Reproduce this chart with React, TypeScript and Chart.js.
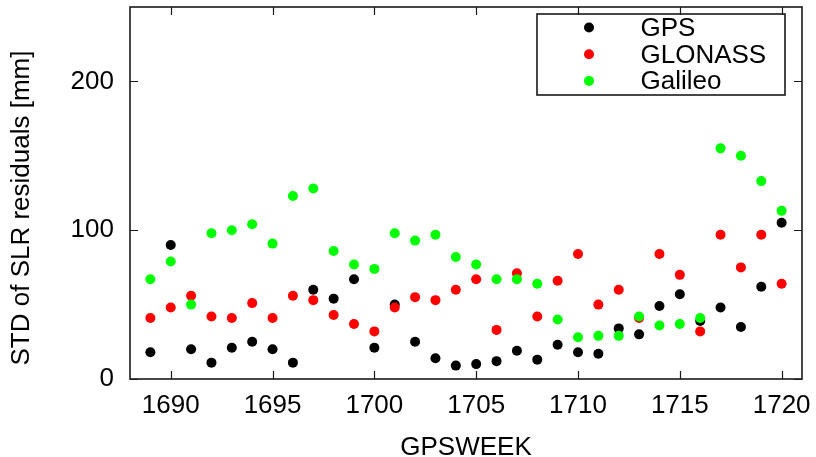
import React, { useEffect, useRef } from "react";
import { Chart, registerables } from "chart.js";

Chart.register(...registerables);

const weeks = [
  1689, 1690, 1691, 1692, 1693, 1694, 1695, 1696, 1697, 1698, 1699, 1700, 1701, 1702, 1703, 1704,
  1705, 1706, 1707, 1708, 1709, 1710, 1711, 1712, 1713, 1714, 1715, 1716, 1717, 1718, 1719, 1720,
];
const gps = [
  18, 90, 20, 11, 21, 25, 20, 11, 60, 54, 67, 21, 50, 25, 14, 9,
  10, 12, 19, 13, 23, 18, 17, 34, 30, 49, 57, 39, 48, 35, 62, 105,
];
const glonass = [
  41, 48, 56, 42, 41, 51, 41, 56, 53, 43, 37, 32, 48, 55, 53, 60,
  67, 33, 71, 42, 66, 84, 50, 60, 41, 84, 70, 32, 97, 75, 97, 64,
];
const galileo = [
  67, 79, 50, 98, 100, 104, 91, 123, 128, 86, 77, 74, 98, 93, 97, 82,
  77, 67, 67, 64, 40, 28, 29, 29, 42, 36, 37, 41, 155, 150, 133, 113,
];
const seriesNames = ["GPS", "GLONASS", "Galileo"];
const seriesColors = ["#000000", "#ff0000", "#00ff00"];
const xTicks = [1690, 1695, 1700, 1705, 1710, 1715, 1720];
const yTicks = [0, 100, 200];
const xTitle = "GPSWEEK";
const yTitle = "STD of SLR residuals [mm]";

const FONT = "'Liberation Sans', Arial, Helvetica, sans-serif";

const framePlugin = {
  id: "gnuFrame",
  afterDraw(chart: any) {
    const { ctx, chartArea } = chart;
    const { left, right, top, bottom } = chartArea;
    const xs = chart.scales.x;
    const ys = chart.scales.y;
    ctx.save();
    ctx.strokeStyle = "#1a1a1a";
    ctx.lineWidth = 1.6;
    ctx.strokeRect(left, top, right - left, bottom - top);
    const tl = 8;
    ctx.beginPath();
    xTicks.forEach((v) => {
      const px = Math.round(xs.getPixelForValue(v)) + 0.5;
      ctx.moveTo(px, bottom);
      ctx.lineTo(px, bottom - tl);
      ctx.moveTo(px, top);
      ctx.lineTo(px, top + tl);
    });
    yTicks.forEach((v) => {
      const py = Math.round(ys.getPixelForValue(v)) + 0.5;
      ctx.moveTo(left, py);
      ctx.lineTo(left + tl, py);
      ctx.moveTo(right, py);
      ctx.lineTo(right - tl, py);
    });
    ctx.lineWidth = 1.2;
    ctx.stroke();

    // axis titles
    ctx.fillStyle = "#000";
    ctx.font = `26px ${FONT}`;
    ctx.textAlign = "center";
    ctx.textBaseline = "alphabetic";
    ctx.fillText(xTitle, (left + right) / 2, 455);
    ctx.save();
    ctx.translate(29, (top + bottom) / 2 + 15);
    ctx.rotate(-Math.PI / 2);
    ctx.fillText(yTitle, 0, 0);
    ctx.restore();

    // legend (key) box
    const bx0 = right - 265;
    const bx1 = right - 17;
    const by0 = top + 7;
    const by1 = top + 88;
    ctx.strokeStyle = "#1a1a1a";
    ctx.lineWidth = 1.6;
    ctx.strokeRect(bx0, by0, bx1 - bx0, by1 - by0);
    ctx.textAlign = "left";
    chart.data.datasets.forEach((ds: any, i: number) => {
      const cy = by0 + 13.5 + i * 26.7;
      ctx.beginPath();
      ctx.fillStyle = ds.backgroundColor;
      ctx.arc(bx0 + 52, cy, 5, 0, Math.PI * 2);
      ctx.fill();
      ctx.fillStyle = "#000";
      ctx.fillText(ds.label, bx0 + 103.5, cy + 8.5);
    });
    ctx.restore();
  },
};

const zeroPad = (s: any) => {
  s.paddingTop = 0;
  s.paddingBottom = 0;
  s.paddingLeft = 0;
  s.paddingRight = 0;
};

export default function App() {
  const ref = useRef<HTMLCanvasElement | null>(null);
  useEffect(() => {
    if (!ref.current) return;
    const series = [gps, glonass, galileo];
    const chart = new Chart(ref.current, {
      type: "scatter",
      data: {
        datasets: series.map((vals, i) => ({
          label: seriesNames[i],
          data: weeks.map((w, j) => ({ x: w, y: vals[j] })),
          backgroundColor: seriesColors[i],
          borderColor: seriesColors[i],
          borderWidth: 0,
          pointRadius: 5,
          pointHoverRadius: 5,
          order: 2 - i,
        })),
      },
      options: {
        animation: false,
        responsive: false,
        maintainAspectRatio: false,
        events: [],
        layout: { padding: { top: 7, right: 14, left: 0, bottom: 0 } },
        plugins: { legend: { display: false }, tooltip: { enabled: false } },
        scales: {
          x: {
            type: "linear",
            min: 1688,
            max: 1721,
            grid: { display: false, drawTicks: false },
            border: { display: false },
            afterBuildTicks: (s: any) => {
              s.ticks = xTicks.map((v) => ({ value: v }));
            },
            afterFit: (s: any) => {
              s.height = 78;
              zeroPad(s);
            },
            ticks: {
              color: "#000",
              font: { family: FONT, size: 26 },
              padding: 11,
              maxRotation: 0,
              autoSkip: false,
              callback: (v: any) => String(v),
            },
          },
          y: {
            type: "linear",
            min: 0,
            max: 250,
            grid: { display: false, drawTicks: false },
            border: { display: false },
            afterBuildTicks: (s: any) => {
              s.ticks = yTicks.map((v) => ({ value: v }));
            },
            afterFit: (s: any) => {
              s.width = 130;
              zeroPad(s);
            },
            ticks: {
              color: "#000",
              font: { family: FONT, size: 26 },
              padding: 16,
              callback: (v: any) => String(v),
            },
          },
        },
      },
      plugins: [framePlugin],
    });
    return () => chart.destroy();
  }, []);
  return (
    <div style={{ position: "fixed", left: 0, top: 0, width: 816, height: 457, background: "#fff" }}>
      <canvas ref={ref} width={816} height={457} style={{ display: "block" }} />
    </div>
  );
}
